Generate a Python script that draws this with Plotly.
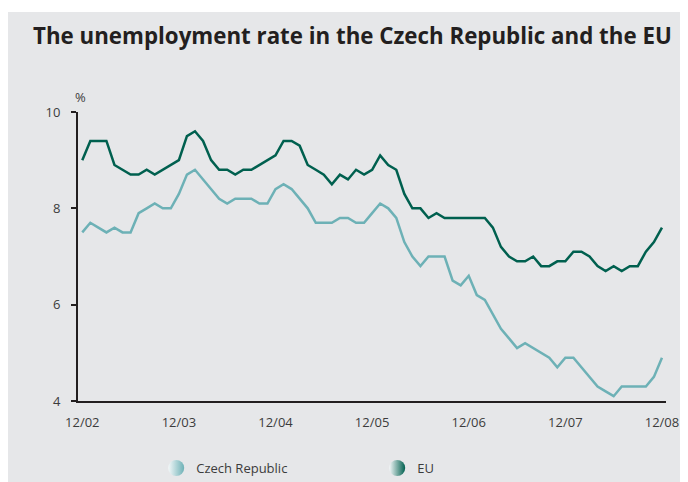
import plotly.graph_objects as go

months = list(range(73))  # 12/2002 .. 12/2008, monthly
tick_vals = [0, 12, 24, 36, 48, 60, 72]
tick_labels = ["12/02", "12/03", "12/04", "12/05", "12/06", "12/07", "12/08"]

eu = [9.0, 9.4, 9.4, 9.4, 8.9, 8.8, 8.7, 8.7, 8.8, 8.7, 8.8, 8.9, 9.0,
      9.5, 9.6, 9.4, 9.0, 8.8, 8.8, 8.7, 8.8, 8.8, 8.9, 9.0, 9.1, 9.4,
      9.4, 9.3, 8.9, 8.8, 8.7, 8.5, 8.7, 8.6, 8.8, 8.7, 8.8, 9.1, 8.9,
      8.8, 8.3, 8.0, 8.0, 7.8, 7.9, 7.8, 7.8, 7.8, 7.8, 7.8, 7.8, 7.6,
      7.2, 7.0, 6.9, 6.9, 7.0, 6.8, 6.8, 6.9, 6.9, 7.1, 7.1, 7.0, 6.8,
      6.7, 6.8, 6.7, 6.8, 6.8, 7.1, 7.3, 7.6]

cz = [7.5, 7.7, 7.6, 7.5, 7.6, 7.5, 7.5, 7.9, 8.0, 8.1, 8.0, 8.0, 8.3,
      8.7, 8.8, 8.6, 8.4, 8.2, 8.1, 8.2, 8.2, 8.2, 8.1, 8.1, 8.4, 8.5,
      8.4, 8.2, 8.0, 7.7, 7.7, 7.7, 7.8, 7.8, 7.7, 7.7, 7.9, 8.1, 8.0,
      7.8, 7.3, 7.0, 6.8, 7.0, 7.0, 7.0, 6.5, 6.4, 6.6, 6.2, 6.1, 5.8,
      5.5, 5.3, 5.1, 5.2, 5.1, 5.0, 4.9, 4.7, 4.9, 4.9, 4.7, 4.5, 4.3,
      4.2, 4.1, 4.3, 4.3, 4.3, 4.3, 4.5, 4.9]

EU_COLOR = "#00604f"
CZ_COLOR = "#6db1b6"
BG = "#e6e7e9"
FONT = "Open Sans"

fig = go.Figure()
fig.add_trace(go.Scatter(x=months, y=cz, mode="lines", name="Czech Republic",
                         line=dict(color=CZ_COLOR, width=2.5), showlegend=False))
fig.add_trace(go.Scatter(x=months, y=eu, mode="lines", name="EU",
                         line=dict(color=EU_COLOR, width=2.5), showlegend=False))
# legend entries (gradient circles)
fig.add_trace(go.Scatter(x=[None], y=[None], mode="markers", name="Czech Republic",
                         marker=dict(size=18, color="#f4f8f9",
                                     gradient=dict(type="horizontal", color=CZ_COLOR),
                                     line=dict(width=0))))
fig.add_trace(go.Scatter(x=[None], y=[None], mode="markers", name="EU",
                         marker=dict(size=18, color="#f4f8f9",
                                     gradient=dict(type="horizontal", color=EU_COLOR),
                                     line=dict(width=0))))

fig.update_layout(
    width=680, height=474,
    margin=dict(l=70, r=22, t=104, b=81, autoexpand=False),
    paper_bgcolor="white",
    plot_bgcolor="rgba(0,0,0,0)",
    font=dict(family=FONT, size=13, color="#3c3c3c"),
    showlegend=True,
    legend=dict(orientation="h", x=0.133, y=-0.232, xanchor="left", yanchor="middle",
                font=dict(size=13, color="#3c3c3c"), bgcolor="rgba(0,0,0,0)",
                itemwidth=30, tracegroupgap=0, entrywidth=176, entrywidthmode="pixels"),
    shapes=[dict(type="rect", xref="paper", yref="paper",
                 x0=-0.2, x1=1.2, y0=-0.4, y1=1.346,
                 fillcolor=BG, line=dict(width=0), layer="below")],
    annotations=[
        dict(text="<b>The unemployment rate in the Czech Republic and the EU</b>",
             xref="paper", yref="paper", x=-0.0799, y=1.263, xanchor="left", yanchor="middle",
             showarrow=False, font=dict(family=FONT, size=22.3, color="#231f20")),
        dict(text="%", xref="paper", yref="paper", x=0.004, y=1.052,
             xanchor="center", yanchor="middle", showarrow=False,
             font=dict(family=FONT, size=13, color="#3c3c3c")),
    ],
)

fig.update_xaxes(range=[-0.53, 72.5], tickvals=tick_vals, ticktext=tick_labels,
                 showgrid=False, zeroline=False, showline=True, linecolor="#231f20",
                 linewidth=2, ticks="", ticklabelstandoff=8, fixedrange=True,
                 automargin=False)
fig.update_yaxes(range=[4, 10], tickvals=[4, 6, 8, 10], showgrid=False, zeroline=False,
                 showline=True, linecolor="#231f20", linewidth=2, ticks="outside",
                 ticklen=5, tickwidth=2, tickcolor="#231f20", ticklabelstandoff=8,
                 fixedrange=True, automargin=False)

fig.write_html("out.html")
